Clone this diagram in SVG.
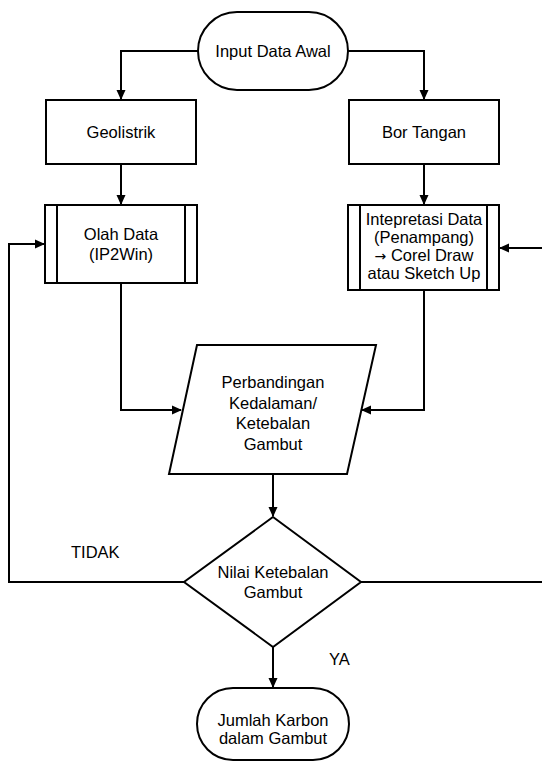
<svg xmlns="http://www.w3.org/2000/svg" width="542" height="763" viewBox="0 0 542 763">
<defs>
<marker id="arr" markerWidth="10" markerHeight="10" refX="9" refY="5" orient="auto" markerUnits="userSpaceOnUse">
<path d="M0,0.5 L10,5 L0,9.5 Z" fill="#000"/>
</marker>
<style>
.s{fill:#fff;stroke:#000;stroke-width:2}
.c{fill:none;stroke:#000;stroke-width:2}
text{font-family:"Liberation Sans",Arial,sans-serif;font-size:16.5px;fill:#000}
.m{text-anchor:middle}
.ar{font-family:"DejaVu Sans",sans-serif;font-size:14px}
</style>
</defs>
<rect width="542" height="763" fill="#fff"/>
<g id="connectors">
<path class="c" d="M198,51 H121 V99" marker-end="url(#arr)"/>
<path class="c" d="M348,51 H424 V99" marker-end="url(#arr)"/>
<path class="c" d="M121,164 V204" marker-end="url(#arr)"/>
<path class="c" d="M424,164 V204" marker-end="url(#arr)"/>
<path class="c" d="M121,283 V410 H181" marker-end="url(#arr)"/>
<path class="c" d="M424,290 V410 H362" marker-end="url(#arr)"/>
<path class="c" d="M273,474 V516" marker-end="url(#arr)"/>
<path class="c" d="M184,582 H9 V244 H44" marker-end="url(#arr)"/>
<path class="c" d="M361,582 H542"/>
<path class="c" d="M542,248 H500" marker-end="url(#arr)"/>
<path class="c" d="M273,647 V687" marker-end="url(#arr)"/>
</g>
<g id="start">
<rect class="s" x="198" y="12" width="150" height="78" rx="39"/>
<text class="m" x="273" y="57">Input Data Awal</text>
</g>
<g id="geolistrik">
<rect class="s" x="46" y="100" width="150" height="64"/>
<text class="m" x="121" y="138">Geolistrik</text>
</g>
<g id="bor">
<rect class="s" x="349" y="100" width="150" height="64"/>
<text class="m" x="424" y="138">Bor Tangan</text>
</g>
<g id="olah">
<rect class="s" x="45" y="205" width="152" height="78"/>
<path class="c" d="M57,205 V283 M185,205 V283"/>
<text class="m" x="121" y="240">Olah Data</text>
<text class="m" x="121" y="260">(IP2Win)</text>
</g>
<g id="interpretasi">
<rect class="s" x="348" y="205" width="151" height="85"/>
<path class="c" d="M360,205 V290 M487,205 V290"/>
<text class="m" x="424" y="225">Intepretasi Data</text>
<text class="m" x="424" y="243">(Penampang)</text>
<text class="m" x="424" y="261"><tspan class="ar">→</tspan> Corel Draw</text>
<text class="m" x="424" y="279">atau Sketch Up</text>
</g>
<g id="perbandingan">
<path class="s" d="M197,345 H376 L347,474 H169 Z"/>
<text class="m" x="273" y="388">Perbandingan</text>
<text class="m" x="273" y="409">Kedalaman/</text>
<text class="m" x="273" y="429">Ketebalan</text>
<text class="m" x="273" y="450">Gambut</text>
</g>
<g id="keputusan">
<path class="s" d="M273,517 L361,582 L273,647 L184,582 Z"/>
<text class="m" x="273" y="578">Nilai Ketebalan</text>
<text class="m" x="273" y="598">Gambut</text>
</g>
<text x="71" y="558">TIDAK</text>
<text x="329" y="665">YA</text>
<g id="end">
<rect class="s" x="197" y="688" width="152" height="72" rx="36"/>
<text class="m" x="273" y="726">Jumlah Karbon</text>
<text class="m" x="273" y="744">dalam Gambut</text>
</g>
</svg>
